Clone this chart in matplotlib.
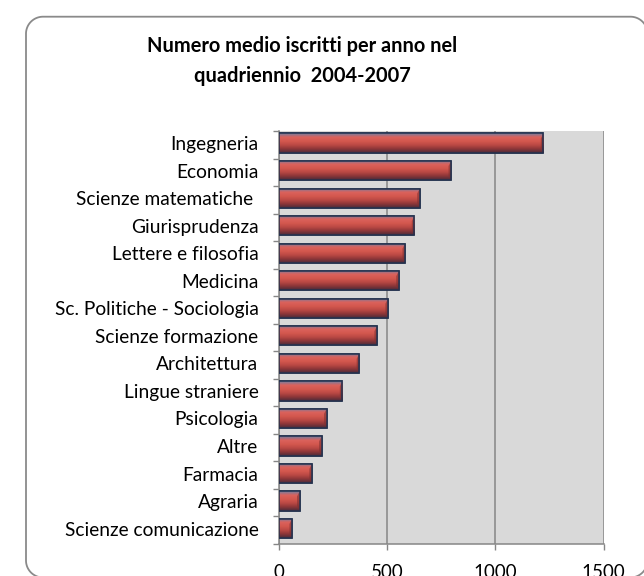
import numpy as np
import matplotlib
matplotlib.use("Agg")
import matplotlib.pyplot as plt
from matplotlib.lines import Line2D
from matplotlib.colors import LinearSegmentedColormap

# Average enrolments per year, 2004-2007, by faculty
categories = [
    "Ingegneria",
    "Economia",
    "Scienze matematiche ",
    "Giurisprudenza",
    "Lettere e filosofia",
    "Medicina",
    "Sc. Politiche - Sociologia",
    "Scienze formazione",
    "Architettura",
    "Lingue straniere",
    "Psicologia",
    "Altre",
    "Farmacia",
    "Agraria",
    "Scienze comunicazione",
]
values = [1222, 795, 650, 625, 582, 553, 503, 452, 370, 292, 219, 196, 151, 94, 59]
x_ticks = [0, 500, 1000, 1500]
title = "Numero medio iscritti per anno nel\nquadriennio  2004-2007"

FONT = "Lato"
W, H = 644, 576
fig = plt.figure(figsize=(W / 100, H / 100), dpi=100)
fig.patch.set_facecolor("white")


def rounded_outline(x0, y0, x1, y1, r, steps=24):
    """Closed rounded-rectangle polyline in pixel coordinates."""
    pts = []
    corners = [(x1 - r, y1 - r, 0), (x0 + r, y1 - r, 90),
               (x0 + r, y0 + r, 180), (x1 - r, y0 + r, 270)]
    for cx, cy, a0 in corners:
        t = np.radians(np.linspace(a0, a0 + 90, steps))
        pts.extend(zip(cx + r * np.cos(t), cy + r * np.sin(t)))
    pts.append(pts[0])
    xs, ys = zip(*pts)
    return np.array(xs), np.array(ys)


# rounded outer frame
fx, fy = rounded_outline(26, -1.5, 647.5, 559.3, 17)
fig.add_artist(Line2D(fx, fy, transform=None, color="#8a8a8a",
                      linewidth=1.3, solid_joinstyle="round", zorder=0))

ax = fig.add_axes([279.3 / W, 1 - 544 / H, 324.2 / W, 413 / H])
ax.set_facecolor("#d9d9d9")

n = len(categories)
pos = np.arange(n)
bar_h = 0.70
bars = ax.barh(pos, values, height=bar_h, color="#c9504c",
               edgecolor="#24324f", linewidth=1.1, zorder=3)

# shaded fill inside each bar: light red at the top, darker toward the bottom
shade = LinearSegmentedColormap.from_list(
    "bar_shade",
    ["#6f7fa3", "#db625c", "#d4584f", "#bb4944", "#8c3638", "#4a2a3a"])
grad = np.linspace(0, 1, 64).reshape(-1, 1)
for rect, v in zip(bars, values):
    y0 = rect.get_y()
    im = ax.imshow(grad, cmap=shade, aspect="auto", interpolation="bilinear",
                   extent=[0, v, y0 + bar_h, y0], zorder=3.5)
    im.set_clip_path(rect)
    # darker bevel at the bar end
    ax.fill([v, v - 12, v - 12, v],
            [y0, y0 + 0.18, y0 + bar_h - 0.18, y0 + bar_h],
            color="#7a2f30", alpha=0.55, zorder=3.6, linewidth=0)
    ax.add_patch(plt.Rectangle((0, y0), v, bar_h, fill=False,
                               edgecolor="#24324f", linewidth=1.1, zorder=3.7))

ax.set_xlim(0, 1500)
ax.set_ylim(n - 0.5 + 0.06, -0.5 + 0.06)

# vertical gridlines
ax.set_xticks(x_ticks)
ax.xaxis.grid(True, color="#868686", linewidth=1.1, zorder=1)
ax.set_axisbelow(True)
ax.set_xticklabels([str(t) for t in x_ticks], fontsize=13.5, family=FONT)
ax.tick_params(axis="x", length=4.5, width=1, color="#868686", pad=10)

# category labels at bar centres, tick marks at band boundaries
ax.set_yticks(pos)
ax.set_yticklabels(categories, fontsize=13.8, family=FONT)
ax.tick_params(axis="y", which="major", length=0, pad=15)
ax.set_yticks(np.arange(n + 1) - 0.5 + 0.06, minor=True)
ax.tick_params(axis="y", which="minor", length=4.5, width=1, color="#868686")

for side in ("top", "right"):
    ax.spines[side].set_visible(False)
for side in ("left", "bottom"):
    ax.spines[side].set_color("#868686")
    ax.spines[side].set_linewidth(1.1)

fig.text(302 / W, 1 - 61 / H, title, ha="center", va="center",
         fontsize=14.4, fontweight="bold", family=FONT, linespacing=1.6)

fig.savefig("out.png", dpi=100)
